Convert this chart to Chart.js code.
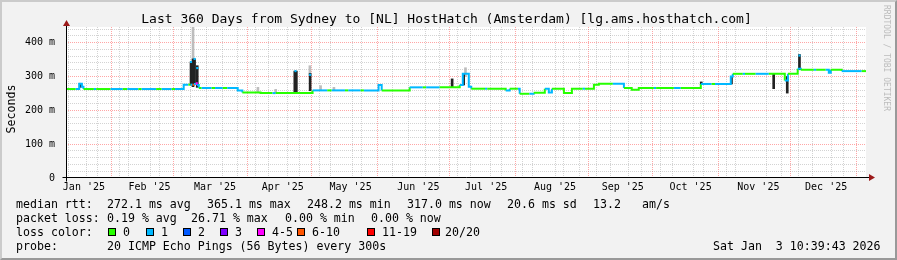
<!DOCTYPE html>
<html>
<head>
<meta charset="utf-8">
<script src="https://cdn.jsdelivr.net/npm/chart.js@4.4.1/dist/chart.umd.min.js"></script>
<style>
    body { margin: 0; background: #f2f2f2; }
    #grafico-box { position: relative; width: 897px; height: 260px; background: #f2f2f2; overflow: hidden; font-family: "DejaVu Sans Mono", monospace; color: #000; }
    #grafico-box canvas { position: absolute; left: 0; top: 0; }
    .moldura { position: absolute; left: 0; top: 0; width: 897px; height: 260px; box-sizing: border-box; border-top: 2px solid #cbcbcb; border-left: 2px solid #cbcbcb; border-right: 2px solid #999; border-bottom: 2px solid #999; pointer-events: none; }
    .titulo { position: absolute; left: 0; top: 11px; width: 893px; text-align: center; font-size: 13px; line-height: 16px; white-space: pre; }
    .unidade { position: absolute; left: 11px; top: 109px; font-size: 11.6px; line-height: 14px; transform: translate(-50%, -50%) rotate(-90deg); white-space: pre; }
    .marca { position: absolute; left: 882px; top: 5px; writing-mode: vertical-rl; font-size: 8px; line-height: 8px; color: #bcbcbc; white-space: pre; }
    .linha { position: absolute; font-size: 11.6px; line-height: 14px; white-space: pre; }
    .caixa { position: absolute; width: 8px; height: 8px; box-sizing: border-box; border: 1px solid #000; }
</style>
</head>
<body>
<div id="grafico-box">
    <canvas id="grafico" width="897" height="260"></canvas>
    <div class="titulo">Last 360 Days from Sydney to [NL] HostHatch (Amsterdam) [lg.ams.hosthatch.com]</div>
    <div class="unidade">Seconds</div>
    <div class="marca">RRDTOOL / TOBI OETIKER</div>

    <div class="linha" style="left:16px; top:197px">median rtt:</div>
    <div class="linha" style="left:107px; top:197px">272.1 ms avg</div>
    <div class="linha" style="left:207px; top:197px">365.1 ms max</div>
    <div class="linha" style="left:307px; top:197px">248.2 ms min</div>
    <div class="linha" style="left:407px; top:197px">317.0 ms now</div>
    <div class="linha" style="left:507px; top:197px">20.6 ms sd</div>
    <div class="linha" style="left:593px; top:197px">13.2</div>
    <div class="linha" style="left:642px; top:197px">am/s</div>

    <div class="linha" style="left:16px; top:211px">packet loss:</div>
    <div class="linha" style="left:107px; top:211px">0.19 % avg</div>
    <div class="linha" style="left:191px; top:211px">26.71 % max</div>
    <div class="linha" style="left:285px; top:211px">0.00 % min</div>
    <div class="linha" style="left:371px; top:211px">0.00 % now</div>

    <div class="linha" style="left:16px; top:225px">loss color:</div>
    <div id="legenda-perda"></div>

    <div class="linha" style="left:16px; top:239px">probe:</div>
    <div class="linha" style="left:107px; top:239px">20 ICMP Echo Pings (56 Bytes) every 300s</div>
    <div class="linha" style="left:713px; top:239px">Sat Jan  3 10:39:43 2026</div>

    <div class="moldura"></div>
</div>

<script>
// dias contados a partir de 1 jan 2025 (0 = 1 jan)
const inicioJanela = 7.44;
const fimJanela = 367.44;

// mediana do rtt (ms), em degraus: cada valor vale ate o proximo dia
const diasMediana = [7.44, 11.8, 13.4, 14.6, 15.3, 20, 21, 27.5, 33, 35,
    40, 41.5, 48, 50.5, 55, 56.5, 60.4, 62.5, 63.5, 64.4,
    65.0, 65.8, 66.3, 67.2, 68.5, 73, 74.5, 78, 80, 84.7,
    86.8, 95, 100.4, 101.8, 118.4, 125, 127, 133, 134.5, 140,
    141.5, 148.1, 149.5, 162.1, 168, 169.5, 175.6, 184.6, 186, 188.7,
    189.8, 196, 197, 205.3, 207.1, 210.8, 211.6, 216, 217.9, 222.9,
    224.7, 226.1, 231.5, 235.1, 240, 241, 245, 247.2, 253.5, 258.5,
    262, 265.2, 272, 273, 281, 284.1, 293.1, 298, 299.5, 306.6,
    307.5, 312, 313, 317.8, 323.7, 330.9, 332.3, 336.7, 338.1, 344,
    345, 349.3, 350.7, 351.6, 356.5, 365.5, 367.44];
const valoresMediana = [263, 263, 279, 270, 263, 263, 263, 263, 263, 263,
    263, 263, 263, 263, 263, 263, 276, 276, 276, 276,
    278, 280, 275, 266, 266, 266, 266, 266, 266, 259,
    253, 251, 251, 251, 259, 259, 259, 259, 259, 259,
    259, 275, 259, 268, 268, 268, 268, 275, 308, 270,
    264, 264, 264, 259, 264, 264, 249, 249, 252, 264,
    253, 264, 251, 264, 264, 264, 276, 279, 279, 266,
    261, 266, 266, 266, 266, 266, 278, 278, 278, 300,
    308, 308, 308, 308, 308, 288, 308, 323, 320, 320,
    320, 320, 311, 320, 316, 316, 316];
// pings perdidos (de 20) em cada trecho
const perdaMediana = [0, 1, 1, 1, 0, 1, 0, 1, 0, 1,
    0, 1, 0, 1, 0, 1, 1, 0, 1, 6,
    1, 4, 1, 0, 1, 0, 1, 0, 1, 1,
    0, 0, 1, 0, 1, 0, 1, 0, 1, 0,
    1, 1, 0, 1, 0, 1, 0, 1, 1, 1,
    0, 1, 0, 1, 0, 1, 0, 1, 0, 1,
    1, 0, 0, 0, 1, 0, 0, 0, 1, 0,
    0, 0, 1, 0, 1, 0, 1, 0, 1, 1,
    0, 1, 0, 1, 0, 1, 0, 1, 0, 1,
    0, 1, 1, 0, 1, 0, 0];

// fumaca escura (faixa densa dos pings)
const diasFumaca = [13.8, 63.7, 64.6, 65.3, 66.5, 110.4, 111.1, 117.3, 181.2, 186.4, 293.3, 306.9, 325.9, 332.0, 337.5];
const fumacaMin = [268, 275, 270, 278, 268, 252, 252, 258, 268, 275, 276, 278, 264, 251, 320];
const fumacaMax = [280, 343, 352, 352, 332, 316, 316, 309, 293, 308, 284, 300, 308, 300, 365];

// fumaca clara (pings mais dispersos)
const diasFumacaClara = [64.6, 93.8, 101.8, 117.2, 122, 128, 187.2];
const fumacaClaraMin = [350, 253, 251, 305, 259, 259, 300];
const fumacaClaraMax = [447, 268, 262, 332, 273, 268, 326];

// pontas dos picos (mediana no alto do pico) e a perda nelas
const diasPico = [63.7, 65.3, 66.5, 110.7, 117.3, 337.5];
const valoresPico = [343, 352, 325, 316, 305, 362];
const perdaPico = [1, 1, 1, 1, 1, 1];

// eixo x
const inicioMeses = [0, 31, 59, 90, 120, 151, 181, 212, 243, 273, 304, 334, 365];
const rotulosMeses = ["Jan '25", "Feb '25", "Mar '25", "Apr '25", "May '25", "Jun '25",
    "Jul '25", "Aug '25", "Sep '25", "Oct '25", "Nov '25", "Dec '25"];

// eixo y
const ticksY = [0, 20, 40, 60, 80, 100, 120, 140, 160, 180, 200, 220, 240, 260, 280, 300, 320, 340, 360, 380, 400, 420, 440];

// legenda de perda
const coresPerda = ['#26ff00', '#00b8ff', '#0059ff', '#7e00ff', '#ff00ff', '#ff5500', '#ff0000', '#a00000'];
const rotulosPerda = ['0', '1', '2', '3', '4-5', '6-10', '11-19', '20/20'];

function corPerda(n) {
    if (n <= 3) return coresPerda[n];
    if (n <= 5) return coresPerda[4];
    if (n <= 10) return coresPerda[5];
    if (n < 20) return coresPerda[6];
    return coresPerda[7];
}

// monta a linha "loss color"
const xCaixas = [108, 146, 183, 220, 257, 297, 367, 432];
const xRotulos = [123, 161, 198, 235, 272, 312, 382, 445];
let legendaPerda = document.getElementById('legenda-perda');
for (let i = 0; i < rotulosPerda.length; i++) {
    legendaPerda.innerHTML += `<div class="caixa" style="left:${xCaixas[i]}px; top:228px; background:${coresPerda[i]}"></div>`;
    legendaPerda.innerHTML += `<div class="linha" style="left:${xRotulos[i]}px; top:225px">${rotulosPerda[i]}</div>`;
}

// ticks do eixo x: inicio de mes (grade vermelha), domingos (grade cinza) e meio do mes (rotulo)
const tipoTick = new Map();
const rotuloTick = new Map();
for (let i = 0; i < inicioMeses.length; i++) {
    let d = inicioMeses[i];
    if (d > inicioJanela && d < fimJanela) tipoTick.set(d, 'mes');
    if (i < rotulosMeses.length) {
        let meio = (inicioMeses[i] + inicioMeses[i + 1]) / 2;
        tipoTick.set(meio, 'rotulo');
        rotuloTick.set(meio, rotulosMeses[i]);
    }
}
for (let d = 4; d < fimJanela; d += 7) {
    if (d > inicioJanela && !tipoTick.has(d)) tipoTick.set(d, 'semana');
}

const corGradeMes = 'rgba(255, 0, 0, 0.35)';
const corGradeSemana = 'rgba(140, 140, 140, 0.38)';

Chart.defaults.font.family = "'DejaVu Sans Mono', monospace";
Chart.defaults.font.size = 10;
Chart.defaults.color = '#000';

const fundoPlot = {
    id: 'fundoPlot',
    beforeDraw(chart) {
        const a = chart.chartArea;
        chart.ctx.save();
        chart.ctx.fillStyle = '#ffffff';
        chart.ctx.fillRect(a.left, a.top, a.right - a.left, a.bottom - a.top);
        chart.ctx.restore();
    }
};

const eixos = {
    id: 'eixos',
    afterDatasetsDraw(chart) {
        const ctx = chart.ctx;
        const a = chart.chartArea;
        const yb = Math.round(a.bottom) - 0.5;
        const xl = Math.round(a.left) + 0.5;
        ctx.save();
        ctx.strokeStyle = '#000';
        ctx.lineWidth = 1;
        ctx.beginPath();
        ctx.moveTo(xl - 4, yb);
        ctx.lineTo(a.right + 4, yb);
        ctx.moveTo(xl, yb + 4);
        ctx.lineTo(xl, a.top - 2);
        ctx.stroke();

        ctx.fillStyle = '#9c1a1a';
        ctx.beginPath();
        ctx.moveTo(a.right + 3, yb - 3.5);
        ctx.lineTo(a.right + 9, yb);
        ctx.lineTo(a.right + 3, yb + 3.5);
        ctx.closePath();
        ctx.fill();
        ctx.beginPath();
        ctx.moveTo(xl - 3.5, a.top - 1);
        ctx.lineTo(xl, a.top - 7);
        ctx.lineTo(xl + 3.5, a.top - 1);
        ctx.closePath();
        ctx.fill();
        ctx.restore();
    }
};

function corGradeX(c) {
    if (!c.tick) return 'rgba(0,0,0,0)';
    let t = tipoTick.get(c.tick.value);
    if (t === 'mes') return corGradeMes;
    if (t === 'semana') return corGradeSemana;
    return 'rgba(0,0,0,0)';
}

function corGradeY(c) {
    if (!c.tick) return 'rgba(0,0,0,0)';
    let v = c.tick.value;
    if (v === 0) return 'rgba(0,0,0,0)';
    if (v % 100 === 0) return corGradeMes;
    return corGradeSemana;
}

const grafico = document.getElementById('grafico');

new Chart(grafico, {
    type: 'line',
    data: {
        datasets: [{
            type: 'line',
            data: diasMediana.map((d, i) => ({ x: d, y: valoresMediana[i] })),
            stepped: true,
            borderWidth: 2,
            borderColor: coresPerda[0],
            pointRadius: 0,
            fill: false,
            order: 0,
            segment: {
                borderColor: (c) => corPerda(perdaMediana[c.p0DataIndex])
            }
        }, {
            type: 'scatter',
            data: diasPico.map((d, i) => ({ x: d, y: valoresPico[i] })),
            showLine: false,
            pointStyle: 'rect',
            pointRadius: 1.5,
            borderWidth: 0,
            pointBackgroundColor: perdaPico.map(corPerda),
            order: 0
        }, {
            type: 'bar',
            data: diasFumaca.map((d, i) => ({ x: d, y: [fumacaMin[i], fumacaMax[i]] })),
            backgroundColor: '#222222',
            barThickness: 2,
            grouped: false,
            order: 1
        }, {
            type: 'bar',
            data: diasFumacaClara.map((d, i) => ({ x: d, y: [fumacaClaraMin[i], fumacaClaraMax[i]] })),
            backgroundColor: '#bdbdbd',
            barThickness: 2,
            grouped: false,
            order: 2
        }]
    },
    options: {
        responsive: false,
        animation: false,
        devicePixelRatio: 1,
        layout: {
            padding: { left: 0, top: 27, right: 31, bottom: 0 }
        },
        plugins: {
            legend: { display: false },
            tooltip: { enabled: false },
            title: { display: false }
        },
        scales: {
            x: {
                type: 'linear',
                min: inicioJanela,
                max: fimJanela,
                offset: false,
                border: { display: false, dash: [1, 1] },
                grid: {
                    drawTicks: false,
                    lineWidth: 1,
                    color: corGradeX
                },
                ticks: {
                    autoSkip: false,
                    maxRotation: 0,
                    padding: 3,
                    font: { size: 10 },
                    callback: (v) => rotuloTick.get(v) || ''
                },
                afterBuildTicks: (s) => {
                    s.ticks = [...tipoTick.keys()].sort((a, b) => a - b).map(v => ({ value: v }));
                },
                afterFit: (s) => { s.height = 82; }
            },
            y: {
                min: 0,
                max: 446.4,
                border: { display: false, dash: [1, 1] },
                grid: {
                    drawTicks: false,
                    lineWidth: 1,
                    color: corGradeY
                },
                ticks: {
                    autoSkip: false,
                    padding: 11,
                    font: { size: 10 },
                    callback: (v) => v === 0 ? '0' : (v % 100 === 0 ? `${v} m` : '')
                },
                afterBuildTicks: (s) => {
                    s.ticks = ticksY.map(v => ({ value: v }));
                },
                afterFit: (s) => { s.width = 66; }
            }
        }
    },
    plugins: [fundoPlot, eixos]
});
</script>
</body>
</html>
